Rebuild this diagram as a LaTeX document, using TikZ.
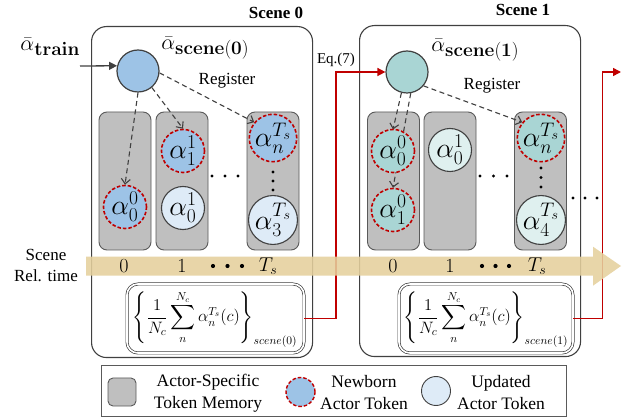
\RequirePackage{fix-cm}
\documentclass[tikz,border=0pt]{standalone}
\usepackage{amsmath}
\usepackage[no-math]{fontspec}
\setmainfont{Liberation Serif}
\usetikzlibrary{arrows.meta,calc}
\definecolor{dk}{HTML}{404040}
\definecolor{gmem}{HTML}{5A5A5A}
\definecolor{gfill}{HTML}{BFBFBF}
\definecolor{nred}{HTML}{C00000}
\definecolor{bl}{HTML}{9DC3E6}
\definecolor{lbl}{HTML}{DEEBF7}
\definecolor{tl}{HTML}{A9D5D4}
\definecolor{ltl}{HTML}{DFF0EF}
\definecolor{band}{HTML}{E5D09D}
\begin{document}
\begin{tikzpicture}[x=1pt,y=-1pt,
  lab/.style={font=\fontsize{17}{21}\selectfont, inner sep=0pt, align=center},
  blab/.style={lab, font=\fontsize{17}{21}\selectfont\bfseries},
  scenebox/.style={draw=dk, line width=1.1pt, rounded corners=15pt, fill=white, minimum width=221pt, minimum height=331pt, anchor=north west, inner sep=0pt},
  mem/.style={draw=gmem, fill=gfill, line width=0.9pt, rounded corners=8pt, minimum width=52pt, minimum height=138pt, inner sep=0pt},
  tok/.style={circle, minimum size=43pt, inner sep=0pt, draw=dk, line width=1.1pt, font=\fontsize{28}{28}\selectfont},
  newb/.style={tok, draw=nred, dash pattern=on 3.5pt off 2pt, line width=1.6pt},
  big/.style={circle, minimum size=42pt, inner sep=0pt, draw=dk, line width=1.2pt},
  reg/.style={draw=dk, line width=1.1pt, dash pattern=on 5pt off 3.5pt, -{Straight Barb[length=5pt,width=9pt]}},
  redl/.style={draw=nred, line width=1.5pt, -{Triangle[length=8pt,width=8pt]}},
  fbox/.style={draw=dk, line width=0.7pt, double=white, double distance=1.6pt, rounded corners=11pt, inner sep=0pt, fill=white},
  dotn/.style={circle, fill=black, inner sep=0pt, minimum size=3.4pt},
  bdot/.style={circle, fill=black, inner sep=0pt, minimum size=4.2pt}
]
\useasboundingbox (0,0) rectangle (629,419);

% scene boxes
\node[scenebox] (s0) at (91,26) {};
\node[scenebox] (s1) at (359,25) {};
\node[blab] (t0) at (276,13) {Scene 0};
\node[blab] (t1) at (523,10) {Scene 1};

% memory columns
\node[mem] (m00) at (125,181) {};
\node[mem] (m01) at (182,181) {};
\node[mem] (m02) at (273,181) {};
\node[mem] (m10) at (393.5,181) {};
\node[mem] (m11) at (450,181) {};
\node[mem] (m12) at (540.5,181) {};

% scene tokens
\node[big, fill=bl] (c0) at (138,71) {};
\node[big, fill=tl] (c1) at (407,72) {};
\node[inner sep=0pt] (lc0) at (205,48) {\fontsize{22}{22}\selectfont$\bar{\alpha}$\raisebox{-5pt}{\fontsize{19}{19}\selectfont$\mathbf{scene(0)}$}};
\node[inner sep=0pt] (lc1) at (475,50) {\fontsize{22}{22}\selectfont$\bar{\alpha}$\raisebox{-5pt}{\fontsize{19}{19}\selectfont$\mathbf{scene(1)}$}};
\node[inner sep=0pt] (ltr) at (50,47) {\fontsize{22}{22}\selectfont$\bar{\alpha}$\raisebox{-5pt}{\fontsize{19}{19}\selectfont$\mathbf{train}$}};
\coordinate (trs) at (80,66);
\draw[dk, line width=1.3pt, -{Triangle[length=8pt,width=8pt]}] (trs) -- (c0.166);

% tokens scene 0
\node[newb, fill=bl] (a00) at (125,207) {$\alpha_0^0$};
\node[newb, fill=bl] (a11) at (183,151) {$\alpha_1^1$};
\node[tok, fill=lbl] (a01) at (183,208) {$\alpha_0^1$};
\node[newb, fill=bl] (anT) at (273,138) {$\alpha_n^{T_s}$};
\node[tok, fill=lbl] (a3T) at (273,220) {$\alpha_3^{T_s}$};
% tokens scene 1
\node[tok, fill=ltl] (b01) at (450,150) {$\alpha_0^1$};
\node[newb, fill=tl] (b10) at (393,210) {$\alpha_1^0$};
\node[newb, fill=tl] (bnT) at (541,138) {$\alpha_n^{T_s}$};
\node[tok, fill=ltl] (b4T) at (541,220) {$\alpha_4^{T_s}$};

% register arrows
\draw[reg] (c0.-90) -- (a00.north);
\draw[reg] (c0.-50) -- (a11.north);
\draw[reg] (c0.-5) -- (anT.140);
\draw[reg] (c1.-40) -- (bnT.140);
\draw[reg] (c1.-80) -- (b10.north);
\draw[reg] (c1.-105) -- ($(393,151)+(0,-21.5)$) coordinate (b00t);
\node[newb, fill=tl] (b00) at (393,151) {$\alpha_0^0$};
\node[lab] (rg0) at (227,81) {Register};
\node[lab] (rg1) at (492,86) {Register};

% dots
\foreach \x/\n in {212/1,225/2,238/3} \node[dotn] (hd0\n) at (\x,176) {};
\foreach \x/\n in {480/1,493.5/2,507/3} \node[dotn] (hd1\n) at (\x,176) {};
\foreach \x/\n in {573/1,585/2,597/3} \node[dotn] (hd2\n) at (\x,198) {};
\foreach \y/\n in {172/1,181/2,190/3} \node[dotn] (vd0\n) at (273,\y) {};
\foreach \y/\n in {168/1,177.5/2,187/3} \node[dotn] (vd1\n) at (541,\y) {};

% formulas
\node[fbox, minimum width=177pt, minimum height=69pt] (f0) at (215.5,318.5) {};
\node[fbox, minimum width=174pt, minimum height=69pt] (f1) at (486,318.5) {};
\node[inner sep=0pt, font=\fontsize{16.5}{16.5}\selectfont] (fm0) at (215,319) {$\displaystyle\left\{\frac{1}{N_c}\sum_n^{N_c}\alpha_n^{T_s}(c)\right\}_{scene(0)}$};
\node[inner sep=0pt, font=\fontsize{16.5}{16.5}\selectfont] (fm1) at (486,319) {$\displaystyle\left\{\frac{1}{N_c}\sum_n^{N_c}\alpha_n^{T_s}(c)\right\}_{scene(1)}$};

% red connectors
\coordinate (r0) at (336,72);
\coordinate (r1) at (602.7,72);
\coordinate (out) at (621,72);
\draw[redl] (f0.east) -| (r0) -- (c1.west);
\draw[redl] (f1.east) -| (r1) -- (out);
\node[inner sep=0pt, font=\fontsize{15}{15}\selectfont] (eq) at (336,60) {Eq.(7)};

% time band
\fill[band, opacity=0.88] (86,256.7) -- (593,256.7) -- (593,246.7) -- (621,266) -- (593,285.7) -- (593,275.7) -- (86,275.7) -- cycle;
\node[lab] (rt) at (46,265.5) {Scene\\Rel. time};
\foreach \x/\t/\n in {124/0/a,182/1/b,268/T_s/c,393/0/d,450/1/e,537/T_s/f}
  \node[inner sep=0pt, font=\fontsize{20}{20}\selectfont] (tm\n) at (\x,266) {$\t$};
\foreach \x/\n in {213/1,227.5/2,242/3} \node[bdot] (bd0\n) at (\x,266) {};
\foreach \x/\n in {482/1,495.5/2,509/3} \node[bdot] (bd1\n) at (\x,266) {};

% legend
\node[draw=gmem, line width=1pt, minimum width=465pt, minimum height=51pt, inner sep=0pt] (lg) at (333.5,391.2) {};
\node[mem, minimum width=28pt, minimum height=28pt, rounded corners=5pt] (lgm) at (122,392) {};
\node[lab, font=\fontsize{17.5}{22}\selectfont] (lgt1) at (208,393) {Actor-Specific\\Token Memory};
\node[newb, fill=bl, minimum size=29pt, line width=1.4pt] (lgn) at (300.5,392) {};
\node[lab, font=\fontsize{17.5}{22}\selectfont] (lgt2) at (364,393) {Newborn\\Actor Token};
\node[tok, fill=lbl, minimum size=29pt, line width=0.9pt] (lgu) at (436,391) {};
\node[lab, font=\fontsize{17.5}{22}\selectfont] (lgt3) at (501,393) {Updated\\Actor Token};
\end{tikzpicture}
\end{document}
